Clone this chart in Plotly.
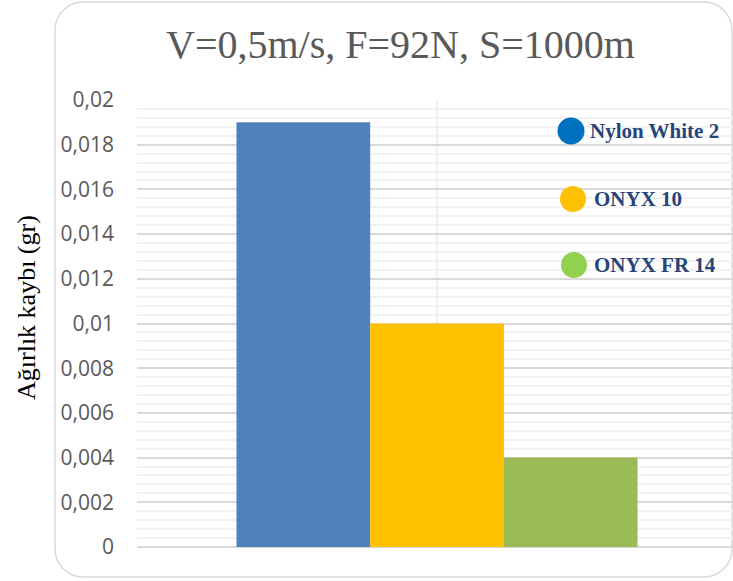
import plotly.graph_objects as go

# Series data
series_names = ["Nylon White 2", "ONYX 10", "ONYX FR 14"]
weight_loss = [0.019, 0.010, 0.004]
bar_colors = ["#4F81BD", "#FFC000", "#9BBB59"]
legend_colors = ["#0070C0", "#FFC000", "#92D050"]
category = ["V=0,5m/s"]

y_tickvals = [0, 0.002, 0.004, 0.006, 0.008, 0.01, 0.012, 0.014, 0.016, 0.018, 0.02]
y_ticktext = ["0", "0,002", "0,004", "0,006", "0,008", "0,01", "0,012", "0,014", "0,016", "0,018", "0,02"]

W, H = 733, 581
L, R, T, B = 137, 0, 100, 34
PW, PH = W - L - R, H - T - B


def px_x(px):
    return (px - L) / PW


def px_y(py):
    return (H - B - py) / PH


fig = go.Figure()
for name, val, col in zip(series_names, weight_loss, bar_colors):
    fig.add_trace(go.Bar(x=category, y=[val], name=name, marker=dict(color=col, line=dict(width=0)),
                         showlegend=False))

# Rounded outer frame
fl, fr, ft, fb, rad = 55, 732, 2, 577, 28
k = 0.45
path = (
    f"M {px_x(fl + rad)},{px_y(ft)} L {px_x(fr - rad)},{px_y(ft)} "
    f"C {px_x(fr - rad * k)},{px_y(ft)} {px_x(fr)},{px_y(ft + rad * k)} {px_x(fr)},{px_y(ft + rad)} "
    f"L {px_x(fr)},{px_y(fb - rad)} "
    f"C {px_x(fr)},{px_y(fb - rad * k)} {px_x(fr - rad * k)},{px_y(fb)} {px_x(fr - rad)},{px_y(fb)} "
    f"L {px_x(fl + rad)},{px_y(fb)} "
    f"C {px_x(fl + rad * k)},{px_y(fb)} {px_x(fl)},{px_y(fb - rad * k)} {px_x(fl)},{px_y(fb - rad)} "
    f"L {px_x(fl)},{px_y(ft + rad)} "
    f"C {px_x(fl)},{px_y(ft + rad * k)} {px_x(fl + rad * k)},{px_y(ft)} {px_x(fl + rad)},{px_y(ft)} Z"
)
shapes = [dict(type="path", xref="paper", yref="paper", path=path,
               line=dict(color="#D9D9D9", width=1.5), layer="below")]

# Custom legend: circles + bold labels
legend_pos = [(571, 131, 27, 588), (573, 199, 26, 592), (574, 265, 26, 592)]
annotations = []
for (cx, cy, d, tx), name, col in zip(legend_pos, series_names, legend_colors):
    shapes.append(dict(type="circle", xref="paper", yref="paper",
                       xsizemode="pixel", ysizemode="pixel",
                       xanchor=px_x(cx), yanchor=px_y(cy),
                       x0=-d / 2, x1=d / 2, y0=-d / 2, y1=d / 2,
                       fillcolor=col, line=dict(width=0), layer="above"))
    annotations.append(dict(x=px_x(tx), y=px_y(cy), xref="paper", yref="paper",
                            xanchor="left", yanchor="middle", showarrow=False,
                            text=f"<b>{name}</b>",
                            font=dict(family="Liberation Serif", size=21, color="#264478")))

# Title and y-axis title
annotations.append(dict(x=px_x(400), y=px_y(45), xref="paper", yref="paper",
                        xanchor="center", yanchor="middle", showarrow=False,
                        text="V=0,5m/s, F=92N, S=1000m",
                        font=dict(family="Liberation Serif", size=40, color="#595959")))
annotations.append(dict(x=px_x(26), y=px_y(308), xref="paper", yref="paper",
                        xanchor="center", yanchor="middle", showarrow=False, textangle=-90,
                        text="Ağırlık kaybı (gr)",
                        font=dict(family="Liberation Serif", size=26, color="#000000")))

fig.update_layout(
    width=W, height=H,
    margin=dict(l=L, r=R, t=T, b=B, pad=0),
    paper_bgcolor="white", plot_bgcolor="white",
    barmode="group", bargap=0.327, bargroupgap=0,
    shapes=shapes, annotations=annotations,
    showlegend=False,
)
fig.update_xaxes(range=[-0.5034, 0.4966], showticklabels=False, showgrid=True,
                 gridcolor="#F0F0F0", gridwidth=2,
                 showline=False, zeroline=False, ticks="")
fig.update_yaxes(range=[0, 0.02], tickvals=y_tickvals, ticktext=y_ticktext,
                 showgrid=True, gridcolor="#D9D9D9", gridwidth=1.5,
                 minor=dict(dtick=0.0004, showgrid=True, gridcolor="#F2F2F2", gridwidth=1.5),
                 zeroline=True, zerolinecolor="#D9D9D9", zerolinewidth=1.5,
                 showline=False, ticks="", ticklabelstandoff=22,
                 tickfont=dict(family="Open Sans", size=21, color="#595959"))

fig.write_html("out.html")
